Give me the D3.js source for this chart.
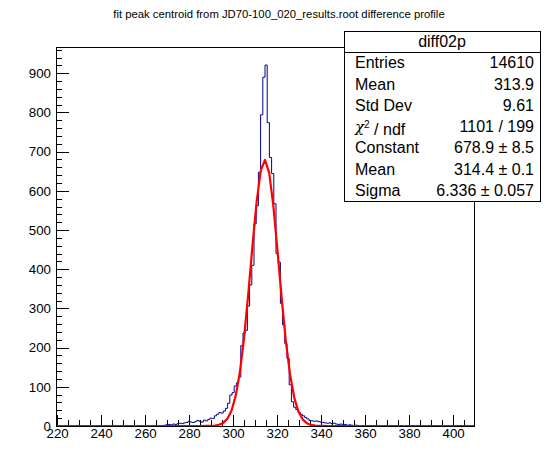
<!DOCTYPE html>
<html>
<head>
<meta charset="utf-8">
<script src="https://cdn.jsdelivr.net/npm/d3@7"></script>
<style>
  body { margin: 0; background: #fff; }
  svg { display: block; font-family: "Liberation Sans", Arial, sans-serif; }
</style>
</head>
<body>
<script>
'use strict';

// chart values
const title = "fit peak centroid from JD70-100_020_results.root difference profile";
const histName = "diff02p";
const xRange = [219.5, 409.5];   // histogram range, bins centred on whole numbers
const binWidth = 1;
const firstBin = 266;   // centre of first non-empty bin, everything else is 0
const counts = [
    1, 0, 1, 2, 3, 4, 3, 5, 4, 6,            // 266-275
    7, 6, 8, 9, 12, 10, 9, 11, 14, 12,       // 276-285
    10, 15, 13, 17, 20, 19, 26, 30, 34, 33,  // 286-295
    38, 45, 58, 79, 85, 102, 110, 125, 205, 237,   // 296-305
    244, 306, 360, 410, 516, 562, 647, 794, 890, 921, // 306-315
    774, 685, 644, 567, 440, 418, 313, 258, 210, 172, // 316-325
    105, 62, 48, 42, 35, 30, 26, 22, 18, 14, // 326-335
    13, 12, 13, 11, 10, 9, 8, 7, 8, 6,       // 336-345
    7, 5, 4, 5, 3, 4, 2, 3, 2, 1,            // 346-355
    2, 1, 1, 0, 1, 1, 0, 1, 1                // 356-364
];
const xTicks = [220, 240, 260, 280, 300, 320, 340, 360, 380, 400];
const yTicks = [0, 100, 200, 300, 400, 500, 600, 700, 800, 900];
const statLabels = ["Entries", "Mean", "Std Dev", "chi2", "Constant", "Mean", "Sigma"];
const statValues = ["14610", "313.9", "9.61", "1101 / 199", "678.9 \u00b1 8.5", "314.4 \u00b1 0.1", "6.336 \u00b1 0.057"];
const fitConstant = 678.9;
const fitMean = 314.4;
const fitSigma = 6.336;

const W = 558, H = 474;
const frame = { left: 56, right: 474, top: 47, bottom: 426 };
const labelFont = "13.3px";

const svg = d3.select("body").append("svg")
    .attr("width", W)
    .attr("height", H);

// full list of bins over the axis range
const bins = d3.range(xRange[0] + binWidth / 2, xRange[1], binWidth).map(function(c) {
    let i = Math.round((c - firstBin) / binWidth);
    let n = (i >= 0 && i < counts.length) ? counts[i] : 0;
    return { lo: c - binWidth / 2, count: n };
});

const x = d3.scaleLinear()
    .domain(xRange)
    .range([frame.left, frame.right]);

const y = d3.scaleLinear()
    .domain([0, d3.max(bins, d => d.count) * 1.05])
    .range([frame.bottom, frame.top]);

// title
svg.append("text")
    .attr("x", 279)
    .attr("y", 18)
    .attr("text-anchor", "middle")
    .style("font-size", "11.3px")
    .text(title);

svg.append("clipPath").attr("id", "clip")
    .append("rect")
    .attr("x", frame.left).attr("y", frame.top)
    .attr("width", frame.right - frame.left)
    .attr("height", frame.bottom - frame.top);

// axes: ticks pointing into the frame
const tickLenY = 12.5, tickLenX = 11.4;

svg.append("g")
    .attr("transform", "translate(" + frame.left + ",0)")
    .call(d3.axisLeft(y).tickValues(d3.range(0, y.domain()[1], 20)).tickSize(-tickLenY / 2).tickFormat(""))
    .call(g => g.select(".domain").remove());

svg.append("g")
    .attr("transform", "translate(" + frame.left + ",0)")
    .call(d3.axisLeft(y).tickValues(yTicks).tickSize(-tickLenY).tickPadding(5).tickSizeOuter(0))
    .call(g => g.select(".domain").remove())
    .call(g => g.selectAll("text").style("font-size", labelFont).attr("fill", "#000")
        .style("font-family", "'Liberation Sans', Arial, sans-serif"));

svg.append("g")
    .attr("transform", "translate(0," + frame.bottom + ")")
    .call(d3.axisBottom(x).tickValues(d3.range(xTicks[0], xRange[1], 5)).tickSize(-tickLenX / 2).tickFormat(""))
    .call(g => g.select(".domain").remove());

svg.append("g")
    .attr("transform", "translate(0," + frame.bottom + ")")
    .call(d3.axisBottom(x).tickValues(xTicks).tickSize(-tickLenX).tickPadding(3).tickSizeOuter(0))
    .call(g => g.select(".domain").remove())
    .call(g => g.selectAll("text").style("font-size", labelFont).attr("fill", "#000")
        .style("font-family", "'Liberation Sans', Arial, sans-serif"));

svg.selectAll(".tick line").attr("stroke", "#000").attr("shape-rendering", "crispEdges");

// histogram outline
let steps = bins.map(d => [d.lo, d.count]);
steps.push([xRange[1], bins[bins.length - 1].count]);

svg.append("path")
    .datum(steps)
    .attr("clip-path", "url(#clip)")
    .attr("fill", "none")
    .attr("stroke", "#000099")
    .attr("stroke-width", 1)
    .attr("d", d3.line().x(d => x(d[0])).y(d => y(d[1])).curve(d3.curveStepAfter));

// fitted gaussian, drawn like ROOT with 100 segments over the axis range
const nSeg = 100;
const fitPts = d3.range(nSeg + 1).map(function(i) {
    let v = xRange[0] + i * (xRange[1] - xRange[0]) / nSeg;
    let t = (v - fitMean) / fitSigma;
    return [v, fitConstant * Math.exp(-0.5 * t * t)];
});

svg.append("path")
    .datum(fitPts)
    .attr("clip-path", "url(#clip)")
    .attr("fill", "none")
    .attr("stroke", "#ff0000")
    .attr("stroke-width", 2.2)
    .attr("stroke-linejoin", "round")
    .attr("d", d3.line().x(d => x(d[0])).y(d => y(d[1])));

// frame
svg.append("rect")
    .attr("x", frame.left + 0.5).attr("y", frame.top + 0.5)
    .attr("width", frame.right - frame.left)
    .attr("height", frame.bottom - frame.top)
    .attr("fill", "none")
    .attr("stroke", "#000")
    .attr("shape-rendering", "crispEdges");

// stats box
const box = { x: 344, y: 31, w: 196, h: 170 };
const rowH = box.h / (statLabels.length + 1);
const stats = svg.append("g").style("font-size", "16px");

stats.append("rect")
    .attr("x", box.x + 0.5).attr("y", box.y + 0.5)
    .attr("width", box.w).attr("height", box.h)
    .attr("fill", "#fff")
    .attr("stroke", "#000")
    .attr("shape-rendering", "crispEdges");

stats.append("line")
    .attr("x1", box.x).attr("x2", box.x + box.w)
    .attr("y1", Math.round(box.y + rowH) + 0.5).attr("y2", Math.round(box.y + rowH) + 0.5)
    .attr("stroke", "#000")
    .attr("shape-rendering", "crispEdges");

stats.append("text")
    .attr("x", box.x + box.w / 2)
    .attr("y", box.y + rowH / 2)
    .attr("dy", "0.35em")
    .attr("text-anchor", "middle")
    .text(histName);

statLabels.forEach(function(lab, i) {
    let cy = box.y + rowH * (i + 1.5);
    let t = stats.append("text")
        .attr("x", box.x + 11)
        .attr("y", cy)
        .attr("dy", "0.35em");
    if (lab === "chi2") {
        t.append("tspan").style("font-family", "'DejaVu Serif', serif").style("font-style", "italic")
            .style("font-size", "15px").text("\u03c7");
        t.append("tspan").attr("dy", "-0.45em").style("font-size", "10px").text("2");
        t.append("tspan").attr("dy", "0.45em").text(" / ndf");
    } else {
        t.text(lab);
    }
    stats.append("text")
        .attr("x", box.x + box.w - 6)
        .attr("y", cy)
        .attr("dy", "0.35em")
        .attr("text-anchor", "end")
        .text(statValues[i]);
});
</script>
</body>
</html>
